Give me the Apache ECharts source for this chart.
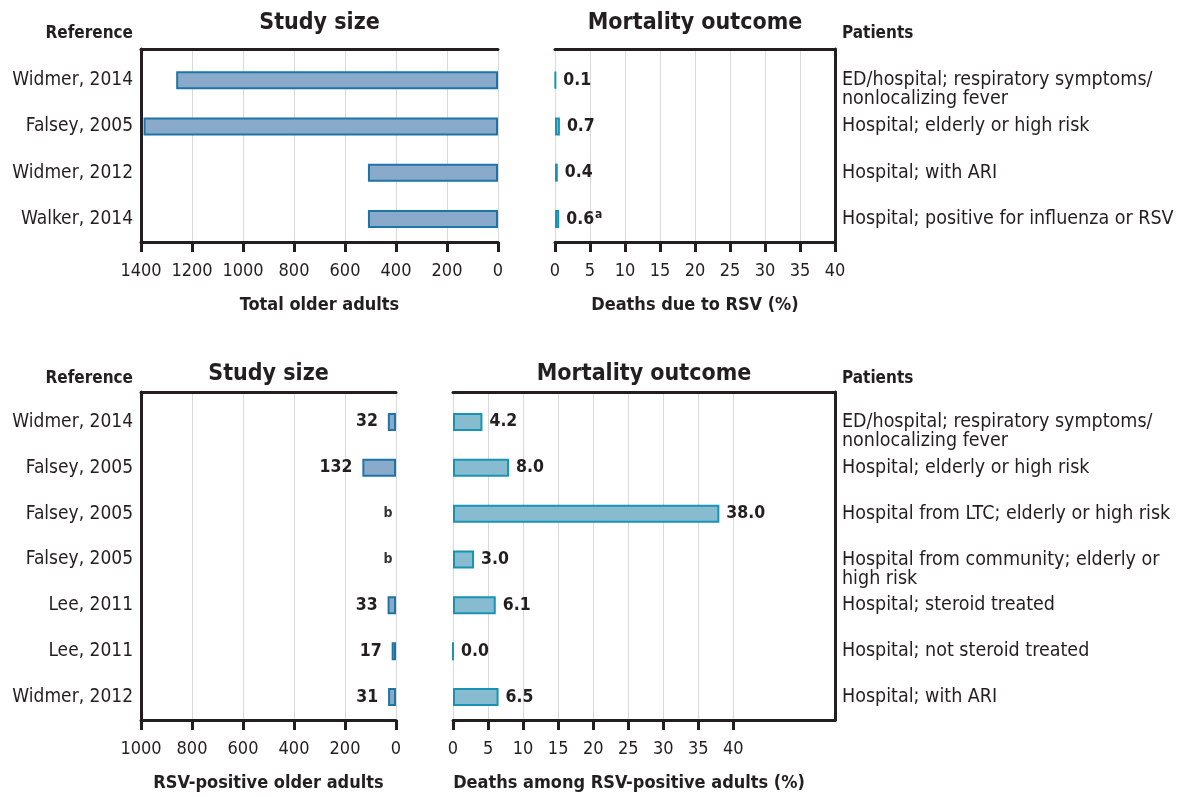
<!DOCTYPE html>
<html>
<head>
<meta charset="utf-8">
<script src="https://cdn.jsdelivr.net/npm/echarts@6/dist/echarts.min.js"></script>
<style>
  html, body { margin: 0; padding: 0; background: #ffffff; }
  #chart { width: 1190px; height: 797px; }
</style>
</head>
<body>
<div id="chart"></div>
<script>
// ---- Upper panel: all older adults ----
const topReferences = ['Widmer, 2014', 'Falsey, 2005', 'Widmer, 2012', 'Walker, 2014'];
const topPatients = [
  'ED/hospital; respiratory symptoms/\nnonlocalizing fever',
  'Hospital; elderly or high risk',
  'Hospital; with ARI',
  'Hospital; positive for influenza or RSV'
];
const topStudySize = [1262, 1390, 510, 510];
const topDeathsPct = [0.1, 0.7, 0.4, 0.6];
const topDeathsNotes = ['', '', '', 'a'];
const topSizeTicks = [0, 200, 400, 600, 800, 1000, 1200, 1400];
const topPctTicks = [0, 5, 10, 15, 20, 25, 30, 35, 40];

// ---- Lower panel: RSV-positive older adults ----
const bottomReferences = ['Widmer, 2014', 'Falsey, 2005', 'Falsey, 2005', 'Falsey, 2005', 'Lee, 2011', 'Lee, 2011', 'Widmer, 2012'];
const bottomPatients = [
  'ED/hospital; respiratory symptoms/\nnonlocalizing fever',
  'Hospital; elderly or high risk',
  'Hospital from LTC; elderly or high risk',
  'Hospital from community; elderly or\nhigh risk',
  'Hospital; steroid treated',
  'Hospital; not steroid treated',
  'Hospital; with ARI'
];
const bottomStudySize = [32, 132, null, null, 33, 17, 31];
const bottomSizeNotes = ['', '', 'b', 'b', '', '', ''];
const bottomDeathsPct = [4.2, 8.0, 38.0, 3.0, 6.1, 0.0, 6.5];
const bottomSizeTicks = [0, 200, 400, 600, 800, 1000];
const bottomPctTicks = [0, 5, 10, 15, 20, 25, 30, 35, 40];

const FONT = "'DejaVu Sans Condensed', 'Liberation Sans Narrow', sans-serif";
const INK = '#231f20';
const GRIDLINE = '#d9d9d9';
const SIZE_FILL = '#8aaacb', SIZE_EDGE = '#1f74a6';
const PCT_FILL = '#87bcd0', PCT_EDGE = '#1893b3';

const grids = [], xAxes = [], yAxes = [], series = [];

// One panel = a frame grid (box, ticks, gridlines, titles) + a data grid (rows and bars)
function addPanel(cfg) {
  const gFrame = grids.length;
  grids.push({ left: cfg.left, top: cfg.top, width: cfg.width, height: cfg.height, outerBoundsMode: 'none' });
  const gData = grids.length;
  grids.push({ left: cfg.left, top: cfg.dataTop, width: cfg.width, height: cfg.top + cfg.height - cfg.dataTop, outerBoundsMode: 'none' });

  const base = { type: 'value', min: cfg.min, max: cfg.max, inverse: cfg.inverse };
  xAxes.push(Object.assign({}, base, {
    gridIndex: gFrame, position: 'bottom', interval: cfg.interval,
    axisLine: { show: true, onZero: false, lineStyle: { color: INK, width: 3 } },
    axisTick: { show: true, length: 10, customValues: cfg.ticks, lineStyle: { color: INK, width: 3 } },
    axisLabel: {
      customValues: cfg.ticks, fontFamily: FONT, fontSize: 18, color: INK, margin: 20,
      hideOverlap: false, formatter: function (v) { return String(v); }
    },
    splitLine: { show: true, lineStyle: { color: GRIDLINE, width: 1 } },
    name: cfg.axisName, nameLocation: 'middle', nameGap: 54,
    nameTextStyle: { fontFamily: FONT, fontSize: 18, fontWeight: 'bold', color: INK, padding: cfg.namePad || 0 }
  }));
  xAxes.push(Object.assign({}, base, {
    gridIndex: gFrame, position: 'top',
    axisLine: { show: true, onZero: false, lineStyle: { color: INK, width: 3 } },
    axisTick: { show: false }, axisLabel: { show: false }, splitLine: { show: false },
    name: cfg.title, nameLocation: 'middle', nameGap: cfg.titleGap,
    nameTextStyle: { fontFamily: FONT, fontSize: 23, fontWeight: 'bold', color: INK }
  }));
  const xData = xAxes.length;
  xAxes.push(Object.assign({}, base, { gridIndex: gData, show: false }));

  yAxes.push({
    type: 'value', gridIndex: gFrame, min: 0, max: 1, position: cfg.side,
    axisLine: { show: true, onZero: false, lineStyle: { color: INK, width: 3 } },
    axisTick: { show: false }, axisLabel: { show: false }, splitLine: { show: false }
  });
  const yData = yAxes.length;
  const isPatients = cfg.side === 'right';
  yAxes.push({
    type: 'category', gridIndex: gData, inverse: true, position: cfg.side,
    data: cfg.categories,
    axisLine: { show: false }, axisTick: { show: false }, splitLine: { show: false },
    axisLabel: {
      fontFamily: FONT, fontSize: isPatients ? 19.5 : 19, color: INK, lineHeight: 19,
      margin: isPatients ? 7 : 8, hideOverlap: false,
      // wrapped descriptions hang below the row: a blank leading line keeps
      // the first line on the row centre
      formatter: function (t) { return isPatients && t.indexOf('\n') >= 0 ? '\n' + t : t; }
    }
  });
  return { x: xData, y: yData };
}

const tl = addPanel({
  left: 141, top: 49, width: 357, height: 193, dataTop: 57,
  min: 0, max: 1400, interval: 200, inverse: true, ticks: topSizeTicks,
  title: 'Study size', titleGap: 14, axisName: 'Total older adults',
  side: 'left', categories: topReferences
});
const tr = addPanel({
  left: 555, top: 49, width: 280, height: 193, dataTop: 57,
  min: 0, max: 40, interval: 5, inverse: false, ticks: topPctTicks,
  title: 'Mortality outcome', titleGap: 14, axisName: 'Deaths due to RSV (%)',
  side: 'right', categories: topPatients
});
const bl = addPanel({
  left: 141, top: 392, width: 255, height: 328, dataTop: 399,
  min: 0, max: 1000, interval: 200, inverse: true, ticks: bottomSizeTicks,
  title: 'Study size', titleGap: 6, axisName: 'RSV-positive older adults',
  side: 'left', categories: bottomReferences
});
const br = addPanel({
  left: 453, top: 392, width: 382, height: 328, dataTop: 399,
  min: 0, max: 54.5, interval: 5, inverse: false, ticks: bottomPctTicks,
  title: 'Mortality outcome', titleGap: 6, axisName: 'Deaths among RSV-positive adults (%)',
  namePad: [0, 30, 0, 0],
  side: 'right', categories: bottomPatients
});

const valueLabel = { fontFamily: FONT, fontSize: 17.5, fontWeight: 'bold', color: INK };

function barSeries(axes, values, fill, edge, label) {
  return {
    type: 'bar', xAxisIndex: axes.x, yAxisIndex: axes.y,
    data: values.map(function (v) { return v === null ? '-' : v; }),
    barWidth: 18, silent: true,
    itemStyle: { color: fill, borderColor: edge, borderWidth: 2 },
    label: label || { show: false }
  };
}

series.push(barSeries(tl, topStudySize, SIZE_FILL, SIZE_EDGE));
series.push(barSeries(tr, topDeathsPct, PCT_FILL, PCT_EDGE, {
  show: true, position: 'right', distance: 7,
  formatter: function (p) {
    const note = topDeathsNotes[p.dataIndex];
    const txt = '{v|' + p.value.toFixed(1) + '}';
    return note ? txt + '{sup|' + note + '}' : txt;
  },
  rich: {
    v: Object.assign({ verticalAlign: 'bottom' }, valueLabel),
    sup: { fontFamily: FONT, fontSize: 12, fontWeight: 'bold', color: INK, verticalAlign: 'bottom', padding: [0, 0, 8, 1] }
  }
}));
series.push(barSeries(bl, bottomStudySize, SIZE_FILL, SIZE_EDGE, Object.assign({
  show: true, position: 'left', distance: 10,
  formatter: function (p) { return String(p.value); }
}, valueLabel)));
// footnote markers for rows without an RSV-positive count
series.push({
  type: 'scatter', xAxisIndex: bl.x, yAxisIndex: bl.y, silent: true,
  symbolSize: 1, itemStyle: { color: 'rgba(0,0,0,0)' },
  data: bottomSizeNotes.map(function (n, i) { return n ? { value: [0, i], note: n } : null; })
    .filter(function (d) { return d; }),
  label: {
    show: true, position: 'left', distance: 3,
    formatter: function (p) { return p.data.note; },
    fontFamily: FONT, fontSize: 14, fontWeight: 'bold', color: '#000000'
  }
});
series.push(barSeries(br, bottomDeathsPct, PCT_FILL, PCT_EDGE, Object.assign({
  show: true, position: 'right', distance: 7,
  formatter: function (p) { return p.value.toFixed(1); }
}, valueLabel)));

const headStyle = { fontFamily: FONT, fontSize: 17, fontWeight: 'bold', color: INK };

const chart = echarts.init(document.getElementById('chart'), null, { renderer: 'canvas' });
chart.setOption({
  backgroundColor: '#ffffff',
  animation: false,
  title: [
    { text: 'Reference', right: 1190 - 133, top: 25, padding: 0, textStyle: headStyle },
    { text: 'Patients', left: 842, top: 25, padding: 0, textStyle: headStyle },
    { text: 'Reference', right: 1190 - 133, top: 370, padding: 0, textStyle: headStyle },
    { text: 'Patients', left: 842, top: 370, padding: 0, textStyle: headStyle }
  ],
  grid: grids,
  xAxis: xAxes,
  yAxis: yAxes,
  series: series
});
</script>
</body>
</html>
